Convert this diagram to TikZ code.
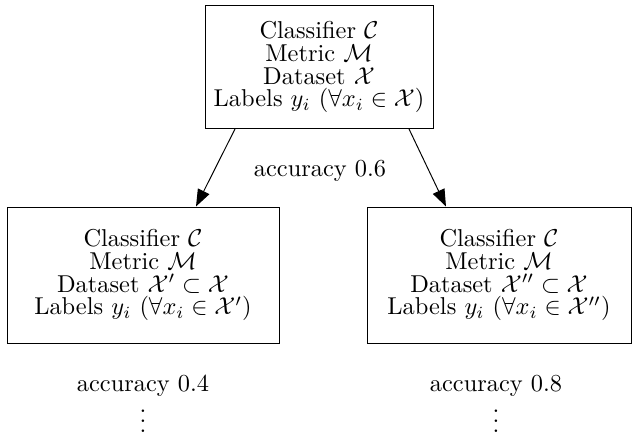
\documentclass[tikz,border=0pt]{standalone}
\usetikzlibrary{arrows.meta}
\begin{document}
\begin{tikzpicture}[x=0.41pt, y=-0.41pt]
\tikzstyle{box} = [draw, thin, align=center, inner sep=0pt, font=\fontsize{10pt}{9.4pt}\selectfont]
\tikzstyle{note} = [inner sep=0pt]
\tikzstyle{arr} = [-{Triangle[length=7pt,width=5.2pt]}, thin]
\useasboundingbox (0,0) rectangle (635,443);

\node[box, minimum width=228*0.41pt, minimum height=123*0.41pt] (root) at (319,67) {Classifier $\mathcal{C}$\\ Metric $\mathcal{M}$\\ Dataset $\mathcal{X}$\\ Labels $y_i$ $(\forall x_i \in \mathcal{X})$};
\node[note] (accroot) at (320,171) {accuracy 0.6};

\node[box, minimum width=272*0.41pt, minimum height=136*0.41pt] (suba) at (143,275) {Classifier $\mathcal{C}$\\ Metric $\mathcal{M}$\\ Dataset $\mathcal{X}' \subset \mathcal{X}$\\ Labels $y_i$ $(\forall x_i \in \mathcal{X}')$};
\node[note] (acca) at (143,386) {accuracy 0.4};
\node[note] (dotsa) at (143,414) {$\vdots$};

\node[box, minimum width=264*0.41pt, minimum height=136*0.41pt] (subb) at (499,275) {Classifier $\mathcal{C}$\\ Metric $\mathcal{M}$\\ Dataset $\mathcal{X}'' \subset \mathcal{X}$\\ Labels $y_i$ $(\forall x_i \in \mathcal{X}'')$};
\node[note] (accb) at (496,386) {accuracy 0.8};
\node[note] (dotsb) at (496,414) {$\vdots$};

\draw[arr] ([xshift=-84*0.41pt]root.south) -- ([xshift=53*0.41pt]suba.north);
\draw[arr] ([xshift=90*0.41pt]root.south) -- ([xshift=-53*0.41pt]subb.north);
\end{tikzpicture}
\end{document}
